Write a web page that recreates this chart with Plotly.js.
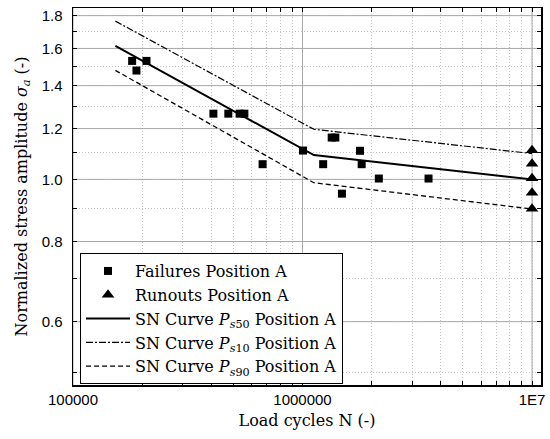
<!DOCTYPE html>
<html>
<head>
<meta charset="utf-8">
<script src="https://cdn.plot.ly/plotly-3.0.1.min.js"></script>
<style>html,body{margin:0;padding:0;background:#fff;}#chart{width:550px;height:439px;}</style>
</head>
<body>
<div id="chart"></div>
<script>
// Failures (squares)
const failN = [1.81e5, 1.89e5, 2.09e5, 4.09e5, 4.75e5, 5.32e5, 5.58e5, 6.7e5, 1.005e6, 1.34e6, 1.39e6, 1.23e6, 1.78e6, 1.81e6, 2.15e6, 3.54e6, 1.485e6];
const failS = [1.53, 1.478, 1.53, 1.266, 1.266, 1.266, 1.266, 1.056, 1.109, 1.162, 1.162, 1.056, 1.108, 1.056, 1.003, 1.003, 0.95];
// Runouts (triangles)
const runN = [1e7, 1e7, 1e7, 1e7, 1e7];
const runS = [1.11, 1.058, 1.004, 0.953, 0.9];
// SN curves
const snN = [1.53e5, 1.12e6, 1e7];
const ps50 = [1.615, 1.091, 1.0];
const ps10 = [1.765, 1.197, 1.097];
const ps90 = [1.479, 0.988, 0.899];
// ticks
const xMajor = [1e5, 1e6, 1e7];
const xMajorText = ["100000", "1000000", "1E7"];
const xMinor = [2e5,3e5,4e5,5e5,6e5,7e5,8e5,9e5,2e6,3e6,4e6,5e6,6e6,7e6,8e6,9e6];
const yMajor = [0.6, 0.8, 1.0, 1.2, 1.4, 1.6, 1.8];
const yMajorText = ["0.6", "0.8", "1.0", "1.2", "1.4", "1.6", "1.8"];
const yMinor = [0.5, 0.7, 0.9, 1.1, 1.3, 1.5, 1.7];

const serif = "DejaVu Serif";
const xLim = [1e5, 1.094e7];
const yLim = [0.478, 1.85];

const xTickVals = xMajor.concat(xMinor);
const xTickText = xMajorText.concat(xMinor.map(() => ' '));
const yTickVals = yMajor.concat(yMinor);
const yTickText = yMajorText.concat(yMinor.map(() => ' '));

// solid major grid lines built from the major tick values
const gx = [], gy = [];
xMajor.forEach(v => { gx.push(v, v, null); gy.push(yLim[0], yLim[1], null); });
yMajor.forEach(v => { gx.push(xLim[0], xLim[1], null); gy.push(v, v, null); });

const traces = [
  {x: gx, y: gy, type: 'scatter', mode: 'lines', showlegend: false, hoverinfo: 'skip',
   line: {color: '#a8a8a8', width: 1}},
  {x: failN, y: failS, type: 'scatter', mode: 'markers', name: 'Failures Position A', legendgroup: 'a',
   marker: {symbol: 'square', size: 8, color: '#000'}},
  {x: runN, y: runS, type: 'scatter', mode: 'markers', name: 'Runouts Position A', legendgroup: 'b',
   marker: {symbol: 'triangle-up', size: 11, color: '#000'}, cliponaxis: false},
  {x: snN, y: ps50, type: 'scatter', mode: 'lines', name: 'SN Curve <i>P</i><sub><i>s</i>50</sub> Position A', legendgroup: 'c',
   line: {color: '#000', width: 2}},
  {x: snN, y: ps10, type: 'scatter', mode: 'lines', name: 'SN Curve <i>P</i><sub><i>s</i>10</sub> Position A', legendgroup: 'd',
   line: {color: '#000', width: 1.2, dash: '7px,2px,2px,2px'}},
  {x: snN, y: ps90, type: 'scatter', mode: 'lines', name: 'SN Curve <i>P</i><sub><i>s</i>90</sub> Position A', legendgroup: 'e',
   line: {color: '#000', width: 1.3, dash: '5px,3px'}}
];

const layout = {
  width: 550, height: 439,
  margin: {l: 73, r: 9, t: 8, b: 54},
  paper_bgcolor: '#fff', plot_bgcolor: '#fff',
  showlegend: true,
  legend: {x: 0.015, y: 0.35, xanchor: 'left', yanchor: 'top', bgcolor: '#fff', bordercolor: '#000', borderwidth: 1,
           font: {family: serif, size: 16, color: '#000'}, traceorder: 'grouped', tracegroupgap: 0, itemwidth: 44},
  xaxis: {
    type: 'log', autorange: false, range: [Math.log10(xLim[0]), Math.log10(xLim[1])], tickmode: 'array', tickvals: xTickVals, ticktext: xTickText,
    ticks: 'inside', ticklen: 4, tickwidth: 1, tickcolor: '#000', mirror: 'ticks',
    showline: true, linecolor: '#000', linewidth: 1.5,
    showgrid: true, gridcolor: '#c4c4c4', griddash: '1px,2px', gridwidth: 1, zeroline: false,
    tickfont: {family: 'Liberation Sans', size: 15, color: '#000'},
    title: {text: 'Load cycles N (-)', font: {family: serif, size: 16, color: '#000'}, standoff: 8}
  },
  yaxis: {
    type: 'log', autorange: false, range: [Math.log10(yLim[0]), Math.log10(yLim[1])], tickmode: 'array', tickvals: yTickVals, ticktext: yTickText,
    ticks: 'inside', ticklen: 4, tickwidth: 1, tickcolor: '#000', mirror: 'ticks',
    showline: true, linecolor: '#000', linewidth: 1.5,
    showgrid: true, gridcolor: '#c4c4c4', griddash: '1px,2px', gridwidth: 1, zeroline: false,
    tickfont: {family: 'Liberation Sans', size: 15, color: '#000'}, ticklabelstandoff: 6,
    title: {text: 'Normalized stress amplitude <i>σ</i><sub><i>a</i></sub> (-)', font: {family: serif, size: 16, color: '#000'}, standoff: 10}
  }
};

Plotly.newPlot('chart', traces, layout, {displayModeBar: false, staticPlot: true});
</script>
</body>
</html>
